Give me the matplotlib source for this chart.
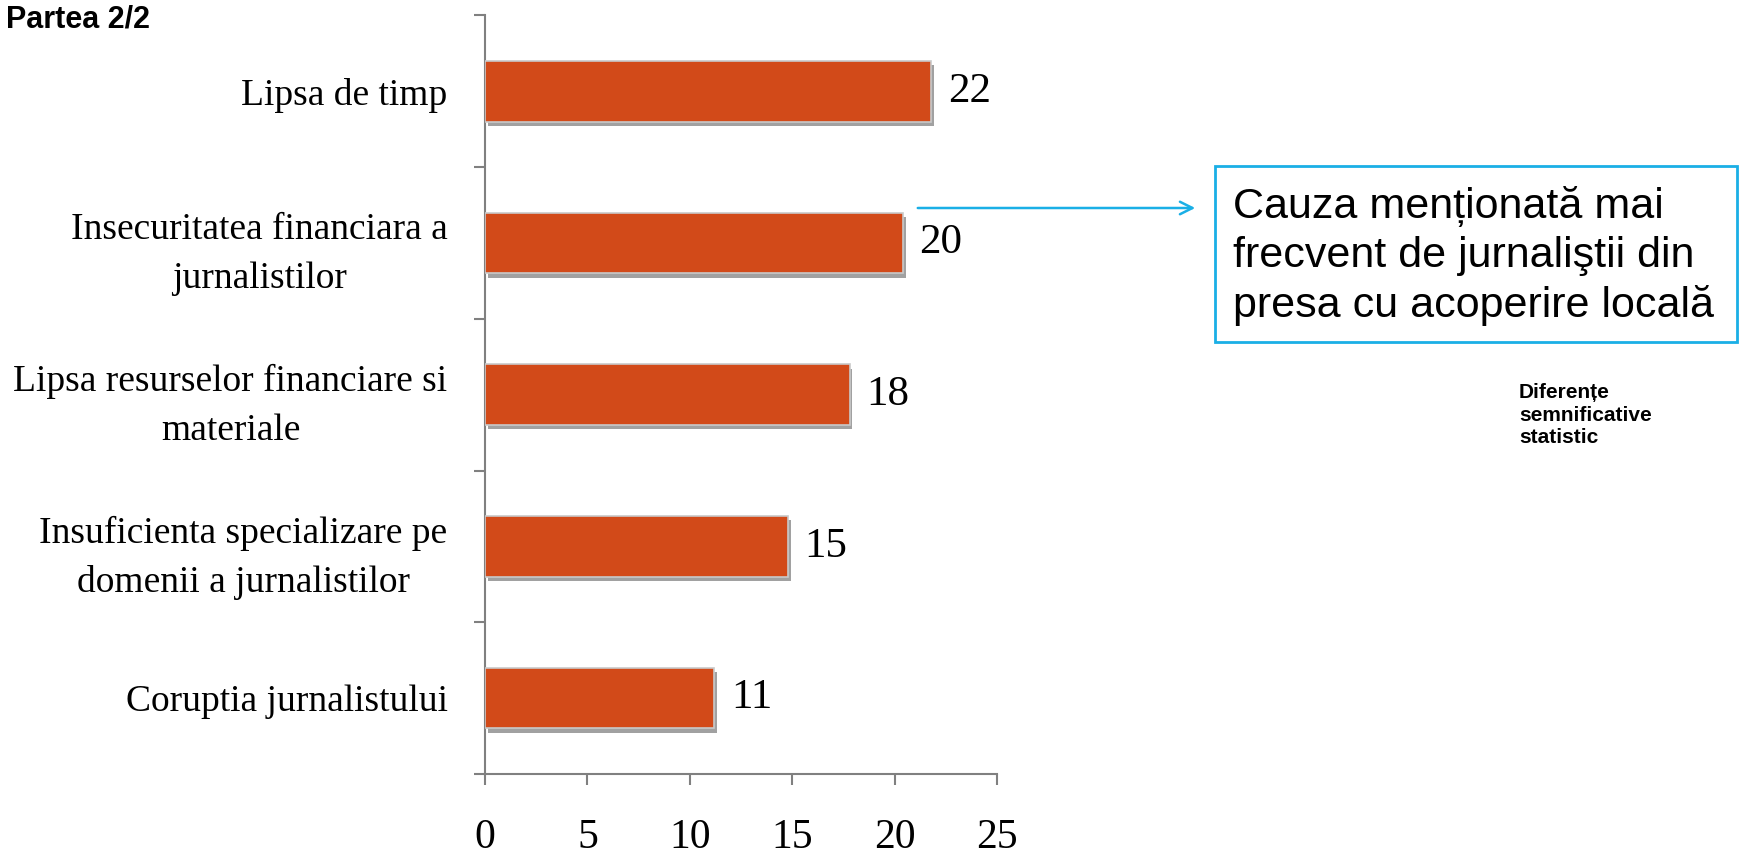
import numpy as np
import matplotlib
matplotlib.use("Agg")
import matplotlib.pyplot as plt
import matplotlib.patheffects as pe
from matplotlib.patches import Rectangle

# date (de sus in jos)
categories = [
    "Lipsa de timp",
    "Insecuritatea financiara a\njurnalistilor",
    "Lipsa resurselor financiare si\nmateriale",
    "Insuficienta specializare pe\ndomenii a jurnalistilor",
    "Coruptia jurnalistului",
]
values = [21.8, 20.4, 17.8, 14.8, 11.2]
value_labels = ["22", "20", "18", "15", "11"]
xticks = [0, 5, 10, 15, 20, 25]

title_text = "Partea 2/2"
box_text = "Cauza menționată mai\nfrecvent de jurnaliştii din\npresa cu acoperire locală"
note_text = "Diferențe\nsemnificative\nstatistic"

BAR_COLOR = "#D24A19"
AXIS_COLOR = "#808080"
BLUE = "#1AAFE6"
SERIF = ["Liberation Serif", "DejaVu Serif"]
SANS = ["Liberation Sans", "DejaVu Sans"]

W, H = 1739, 859
fig = plt.figure(figsize=(W / 100, H / 100), dpi=100)
ax = fig.add_axes([485 / W, 1 - 774 / H, (997 - 485) / W, (774 - 15.5) / H])

n = len(categories)
ypos = np.arange(n)[::-1]
bars = ax.barh(ypos, values, height=0.4, color=BAR_COLOR,
               edgecolor="#C9C9C9", linewidth=1.2, zorder=3)
for b in bars:
    b.set_path_effects([pe.SimplePatchShadow(offset=(2, -3), shadow_rgbFace="#555555", alpha=0.55),
                        pe.Normal()])

for y, v, lab in zip(ypos, values, value_labels):
    ax.text(v + 0.8, y, lab, va="center", ha="left",
            fontsize=31, family=SERIF, color="black")

ax.set_xlim(0, 25)
ax.set_ylim(-0.5, n - 0.5)
ax.set_xticks(xticks)
ax.set_xticklabels([str(t) for t in xticks], fontsize=30, family=SERIF)
ax.tick_params(axis="x", direction="out", length=8, width=1.5,
               color=AXIS_COLOR, pad=24)

# tick-uri majore la granitele categoriilor, etichete pe minore
ax.set_yticks(np.arange(-0.5, n, 1.0))
ax.set_yticklabels([])
ax.set_yticks(ypos, minor=True)
ax.set_yticklabels(categories, minor=True, fontsize=27, family=SERIF,
                   multialignment="center", linespacing=1.55)
ax.tick_params(axis="y", which="major", direction="out", length=8,
               width=1.5, color=AXIS_COLOR)
ax.tick_params(axis="y", which="minor", length=0, pad=27)

for s in ["top", "right"]:
    ax.spines[s].set_visible(False)
for s in ["left", "bottom"]:
    ax.spines[s].set_color(AXIS_COLOR)
    ax.spines[s].set_linewidth(1.5)

fig.text(6 / W, 1 - 5 / H, title_text, ha="left", va="top",
         fontsize=22, fontweight="bold", family=SANS)

# caseta cu sageata
fig.patches.append(Rectangle((1215 / W, 1 - 342 / H), (1737 - 1215) / W, (342 - 166) / H,
                             transform=fig.transFigure, fill=False,
                             edgecolor=BLUE, linewidth=2))
fig.text(1233 / W, 1 - 256 / H, box_text, ha="left", va="center",
         fontsize=31, family=SANS, linespacing=1.3)
ax.annotate("", xy=(1198, H - 208), xycoords="figure pixels",
            xytext=(915, H - 208), textcoords="figure pixels",
            arrowprops=dict(arrowstyle="->,head_length=0.9,head_width=0.45",
                            color=BLUE, lw=1.8))

fig.text(1519 / W, 1 - 415 / H, note_text, ha="left", va="center",
         fontsize=15, fontweight="bold", family=SANS, linespacing=1.25)

fig.savefig("out.png", dpi=100)
